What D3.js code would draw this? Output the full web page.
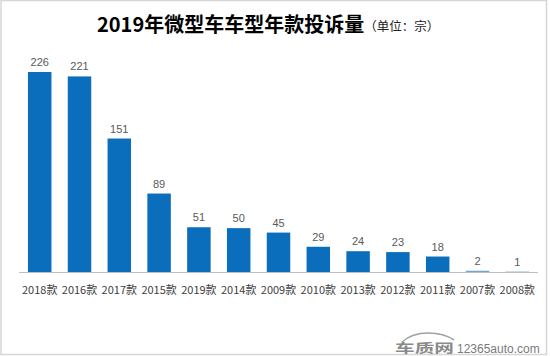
<!DOCTYPE html>
<html><head><meta charset="utf-8">
<script src="https://cdn.jsdelivr.net/npm/d3@7"></script>
<style>
html,body{margin:0;padding:0;background:#fff;}
svg{display:block;}
</style></head>
<body>
<svg id="chart" width="550" height="356"></svg>
<script>
const categories = ["2018款","2016款","2017款","2015款","2019款","2014款","2009款","2010款","2013款","2012款","2011款","2007款","2008款"];
const values = [226,221,151,89,51,50,45,29,24,23,18,2,1];
const titleText = "2019年微型车车型年款投诉量";
const unitText = "（单位：宗）";

const svg = d3.select("#chart");

// frame
svg.append("rect").attr("x",1).attr("y",0.5).attr("width",545.5).attr("height",354)
  .attr("fill","#fff").attr("stroke","#d6d6d6").attr("stroke-width",1.5);

const x = d3.scaleBand().domain(categories).range([20,537]).paddingInner(0.41).paddingOuter(0.2);
const y = d3.scaleLinear().domain([0,250]).range([272.5,50.7]);

const font = "'Liberation Sans', Arial, 'Noto Sans CJK SC', sans-serif";

// title
const t = svg.append("text").attr("x",97).attr("y",32)
  .style("font-family","'Noto Sans CJK SC', sans-serif");
t.append("tspan").text(titleText).style("font-size","20px").style("font-weight","bold").attr("fill","#000");
t.append("tspan").text(unitText).style("font-size","12.5px").attr("fill","#222").attr("dy",-1);

// bars
svg.append("g").selectAll("rect").data(values).join("rect")
  .attr("x",(d,i)=>x(categories[i]))
  .attr("y",d=>y(d))
  .attr("width",x.bandwidth())
  .attr("height",d=>y(0)-y(d))
  .attr("fill",(d)=> d<5 ? "#6fa6d6" : "#0a6ebd");

// value labels
svg.append("g").selectAll("text").data(values).join("text")
  .attr("x",(d,i)=>x(categories[i])+x.bandwidth()/2)
  .attr("y",d=>y(d)-6)
  .attr("text-anchor","middle")
  .style("font-family",font).style("font-size","11px")
  .attr("fill","#595959")
  .text(d=>d);

// x axis
const xAxis = d3.axisBottom(x).tickSize(0).tickPadding(14);
const ax = svg.append("g").attr("transform","translate(0,272.5)").call(xAxis);
ax.select(".domain").attr("d","M19,0H538").attr("stroke","#bfbfbf").attr("stroke-width",1);
ax.selectAll("text").style("font-family","'Noto Sans CJK SC', sans-serif").style("font-size","11px")
  .attr("fill","#404040");

// watermark
const wm = svg.append("g");
wm.append("path").attr("d","M402,342 Q412,333 428,333 Q444,333 454,340")
  .attr("fill","none").attr("stroke","#a0a0a0").attr("stroke-width",1.6);
wm.append("text").attr("x",395).attr("y",352.5).text("车质网")
  .style("font-family","'Noto Sans CJK SC', sans-serif").style("font-size","12.5px").style("font-weight","bold")
  .attr("textLength",59).attr("lengthAdjust","spacingAndGlyphs").attr("fill","#8a8a8a");
wm.append("text").attr("x",457).attr("y",353).text("12365auto.com")
  .style("font-family","'Liberation Sans', Arial, sans-serif").style("font-size","12px")
  .attr("fill","#7a7a7a");
</script>
</body></html>
